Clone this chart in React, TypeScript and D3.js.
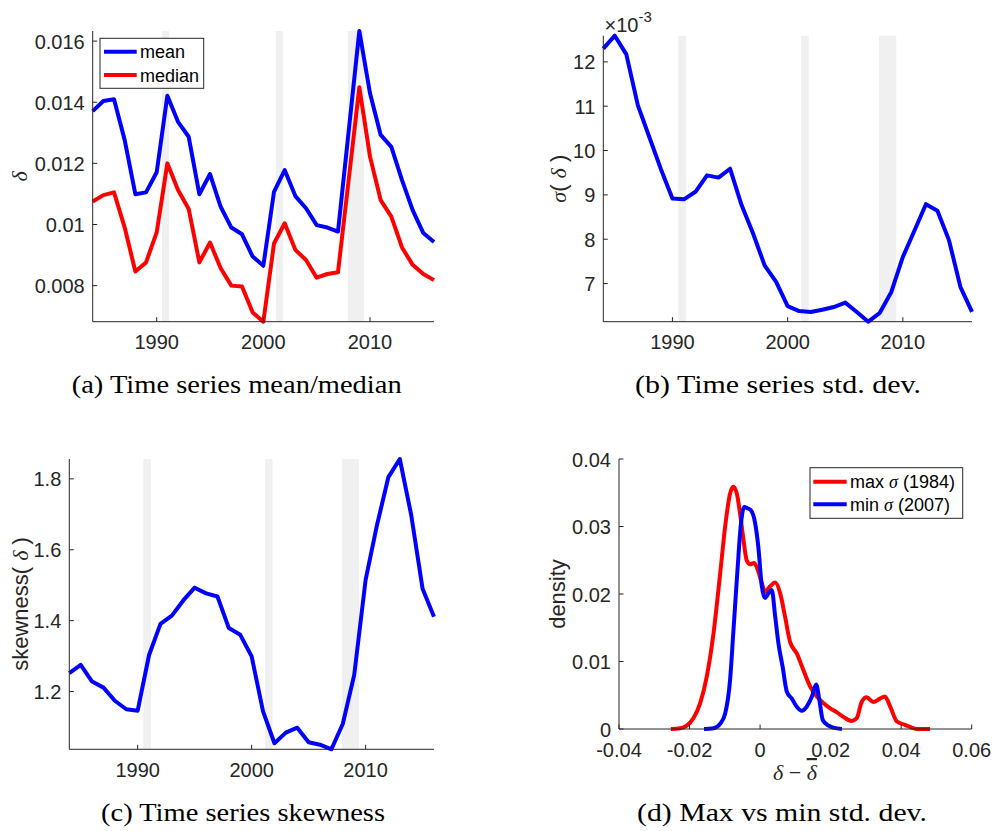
import React from "react";
import * as d3 from "d3";

// ---------- data ----------
const years = [1984, 1985, 1986, 1987, 1988, 1989, 1990, 1991, 1992, 1993, 1994, 1995, 1996, 1997, 1998, 1999, 2000, 2001, 2002, 2003, 2004, 2005, 2006, 2007, 2008, 2009, 2010, 2011, 2012, 2013, 2014, 2015, 2016];

const meanDelta = [0.01371, 0.01404, 0.0141, 0.01276, 0.01099, 0.01105, 0.01171, 0.01421, 0.01336, 0.01287, 0.01099, 0.01165, 0.01058, 0.0099, 0.00968, 0.00895, 0.00865, 0.01107, 0.01178, 0.01093, 0.01053, 0.00998, 0.0099, 0.00977, 0.01305, 0.01633, 0.01429, 0.01293, 0.01254, 0.01145, 0.01047, 0.00972, 0.00943];

const medianDelta = [0.01075, 0.01096, 0.01105, 0.0099, 0.00846, 0.00876, 0.00974, 0.012, 0.01113, 0.01051, 0.00876, 0.00941, 0.00857, 0.008, 0.00797, 0.00712, 0.00682, 0.00938, 0.01004, 0.00917, 0.00884, 0.00826, 0.00838, 0.00844, 0.01146, 0.01449, 0.01222, 0.0108, 0.01026, 0.00925, 0.00868, 0.00838, 0.00818];

const sigmaDelta = [0.0123, 0.01259, 0.01217, 0.01102, 0.0103, 0.00958, 0.00892, 0.0089, 0.00907, 0.00944, 0.00939, 0.00959, 0.00877, 0.00813, 0.00741, 0.00704, 0.00649, 0.00638, 0.00636, 0.00641, 0.00647, 0.00657, 0.00636, 0.00614, 0.00634, 0.00681, 0.0076, 0.00819, 0.00879, 0.00864, 0.00798, 0.00692, 0.00636];

const skewDelta = [1.252, 1.275, 1.228, 1.211, 1.174, 1.15, 1.146, 1.303, 1.391, 1.414, 1.457, 1.493, 1.477, 1.468, 1.379, 1.36, 1.299, 1.144, 1.054, 1.084, 1.098, 1.057, 1.05, 1.037, 1.109, 1.247, 1.515, 1.67, 1.805, 1.856, 1.698, 1.49, 1.411];

const recessionStart = [1990.5, 2001.17, 2007.92];
const recessionEnd = [1991.17, 2001.83, 2009.42];

const densMaxX = [-0.0253, -0.0227, -0.0208, -0.0189, -0.017, -0.0151, -0.0132, -0.0113, -0.0099, -0.0085, -0.0076, -0.0066, -0.0057, -0.0047, -0.0038, -0.0028, -0.0017, -0.0008, 0.0005, 0.0014, 0.0028, 0.0043, 0.0057, 0.0071, 0.0085, 0.0104, 0.0123, 0.0142, 0.0161, 0.018, 0.0198, 0.0217, 0.0236, 0.026, 0.0274, 0.0288, 0.0302, 0.0321, 0.034, 0.0354, 0.0369, 0.0388, 0.0406, 0.0425, 0.0444, 0.0482];
const densMaxY = [0, 0.0001, 0.0005, 0.0016, 0.0038, 0.0078, 0.0142, 0.0231, 0.03, 0.0349, 0.0359, 0.0349, 0.032, 0.028, 0.025, 0.0244, 0.0246, 0.0238, 0.0216, 0.0203, 0.0211, 0.0217, 0.0201, 0.0166, 0.0129, 0.0112, 0.0087, 0.0063, 0.0048, 0.0038, 0.0031, 0.0025, 0.0018, 0.0012, 0.0016, 0.004, 0.0047, 0.004, 0.0045, 0.0048, 0.0033, 0.0011, 0.0007, 0.0003, 0, 0];

const densMinX = [-0.0159, -0.0132, -0.0113, -0.0099, -0.0085, -0.0076, -0.0064, -0.0055, -0.0045, -0.0036, -0.0026, -0.0014, -0.0005, 0.0005, 0.0014, 0.0024, 0.0033, 0.0043, 0.0052, 0.0064, 0.0076, 0.009, 0.0104, 0.0118, 0.0132, 0.0147, 0.0159, 0.0168, 0.0178, 0.0194, 0.0208, 0.0232];
const densMinY = [0, 0.0001, 0.0008, 0.0023, 0.0073, 0.0142, 0.0236, 0.03, 0.0329, 0.0327, 0.0324, 0.0305, 0.027, 0.0211, 0.0194, 0.0201, 0.0206, 0.0166, 0.0127, 0.0092, 0.0055, 0.0045, 0.0033, 0.0027, 0.0033, 0.0048, 0.0066, 0.0043, 0.0013, 0.0005, 0.0002, 0];

const yearTicks = [1990, 2000, 2010];
const meanTicks = [0.008, 0.01, 0.012, 0.014, 0.016];
const sigmaTicks = [0.007, 0.008, 0.009, 0.01, 0.011, 0.012];
const skewTicks = [1.2, 1.4, 1.6, 1.8];
const densXTicks = [-0.04, -0.02, 0, 0.02, 0.04, 0.06];
const densYTicks = [0, 0.01, 0.02, 0.03, 0.04];

// ---------- style ----------
const SANS = "'Liberation Sans', Arial, Helvetica, sans-serif";
const SERIF = "'Liberation Serif', 'Times New Roman', serif";
const AX = "#262626";
const BLUE = "#0000ff";
const RED = "#ff0000";
const TICK_FS = 20;
const TICK_LEN = 4.5;
const CAP_FS = 25.5;

type Scale = d3.ScaleLinear<number, number>;

function Axes(props: {
  x: Scale;
  y: Scale;
  xTicks: number[];
  yTicks: number[];
  xFmt: (v: number) => string;
  yFmt: (v: number) => string;
}) {
  const { x, y, xTicks, yTicks, xFmt, yFmt } = props;
  const [x0, x1] = x.range();
  const [yb, yt] = y.range();
  return (
    <g>
      <line x1={x0} x2={x1} y1={yb} y2={yb} stroke={AX} strokeWidth={1} />
      <line x1={x0} x2={x0} y1={yb} y2={yt} stroke={AX} strokeWidth={1} />
      {xTicks.map((t) => (
        <g key={"x" + t}>
          <line x1={x(t)} x2={x(t)} y1={yb} y2={yb - TICK_LEN} stroke={AX} strokeWidth={1} />
          <text x={x(t)} y={yb + 27.6} textAnchor="middle" fontFamily={SANS} fontSize={TICK_FS} fill={AX}>
            {xFmt(t)}
          </text>
        </g>
      ))}
      {yTicks.map((t) => (
        <g key={"y" + t}>
          <line x1={x0} x2={x0 + TICK_LEN} y1={y(t)} y2={y(t)} stroke={AX} strokeWidth={1} />
          <text x={x0 - 8} y={y(t) + 7.5} textAnchor="end" fontFamily={SANS} fontSize={TICK_FS} fill={AX}>
            {yFmt(t)}
          </text>
        </g>
      ))}
    </g>
  );
}

function Recessions(props: { x: Scale; y: Scale }) {
  const { x, y } = props;
  const [yb, yt] = y.range();
  return (
    <g>
      {recessionStart.map((s, i) => (
        <rect key={i} x={x(s)} y={yt} width={x(recessionEnd[i]) - x(s)} height={yb - yt} fill="#f0f0f0" />
      ))}
    </g>
  );
}

function seriesPath(x: Scale, y: Scale, xs: number[], ys: number[], curve = d3.curveLinear) {
  const line = d3
    .line<number>()
    .x((_, i) => x(xs[i]))
    .y((v) => y(v))
    .curve(curve);
  return line(ys) || "";
}

const fmtPlain = (v: number) => {
  if (v === 0) return "0";
  return String(+v.toFixed(4));
};

function Caption(props: { x: number; y: number; len: number; text: string }) {
  return (
    <text
      x={props.x}
      y={props.y}
      fontFamily={SERIF}
      fontSize={CAP_FS}
      textLength={props.len}
      lengthAdjust="spacingAndGlyphs"
      fill="#000"
    >
      {props.text}
    </text>
  );
}

export default function App() {
  // panel a
  const xa = d3.scaleLinear().domain([1984, 2016]).range([92.7, 434]);
  const ya = d3
    .scaleLinear()
    .domain(d3.extent([...meanDelta, ...medianDelta]) as [number, number])
    .range([321.7, 31]);
  // panel b
  const xb = d3.scaleLinear().domain([1984, 2016]).range([603.3, 972]);
  const yb = d3
    .scaleLinear()
    .domain(d3.extent(sigmaDelta) as [number, number])
    .range([321.7, 35.7]);
  // panel c
  const xc = d3.scaleLinear().domain([1984, 2016]).range([69.3, 434]);
  const yc = d3
    .scaleLinear()
    .domain(d3.extent(skewDelta) as [number, number])
    .range([749.3, 459]);
  // panel d
  const xd = d3.scaleLinear().domain([-0.04, 0.06]).range([619, 971.7]);
  const yd = d3.scaleLinear().domain([0, 0.04]).range([729, 459]);

  const lineProps = { fill: "none", strokeWidth: 4, strokeLinejoin: "round" as const, strokeLinecap: "butt" as const };

  return (
    <svg
      width={995}
      height={831}
      viewBox="0 0 995 831"
      style={{ position: "absolute", left: 0, top: 0, background: "#fff" }}
    >
      <rect width={995} height={831} fill="#fff" />

      {/* ---------- (a) ---------- */}
      <Recessions x={xa} y={ya} />
      <path d={seriesPath(xa, ya, years, meanDelta)} stroke={BLUE} {...lineProps} />
      <path d={seriesPath(xa, ya, years, medianDelta)} stroke={RED} {...lineProps} />
      <Axes x={xa} y={ya} xTicks={yearTicks} yTicks={meanTicks} xFmt={(v) => String(v)} yFmt={fmtPlain} />
      <text
        transform="translate(27,176.4) rotate(-90)"
        textAnchor="middle"
        fontFamily={SERIF}
        fontStyle="italic"
        fontSize={22}
        fill={AX}
      >
        δ
      </text>
      <g>
        <rect x={100} y={38.3} width={103.7} height={50} fill="#fff" stroke={AX} strokeWidth={1} />
        <line x1={104} x2={136.7} y1={51.7} y2={51.7} stroke={BLUE} strokeWidth={4} />
        <line x1={104} x2={136.7} y1={75} y2={75} stroke={RED} strokeWidth={4} />
        <text x={140} y={58} fontFamily={SANS} fontSize={18} fill="#000">mean</text>
        <text x={140} y={81.5} fontFamily={SANS} fontSize={18} fill="#000">median</text>
      </g>
      <Caption x={71.7} y={393} len={330} text="(a) Time series mean/median" />

      {/* ---------- (b) ---------- */}
      <Recessions x={xb} y={yb} />
      <path d={seriesPath(xb, yb, years, sigmaDelta)} stroke={BLUE} {...lineProps} />
      <Axes x={xb} y={yb} xTicks={yearTicks} yTicks={sigmaTicks} xFmt={(v) => String(v)} yFmt={(v) => String(Math.round(v * 1000))} />
      <text x={604.5} y={31.5} fontFamily={SANS} fontSize={20} fill={AX}>
        ×10
        <tspan fontSize={15} dy={-10}>-3</tspan>
      </text>
      <text transform="translate(566,178.7) rotate(-90)" textAnchor="middle" fontSize={22} fill={AX} fontFamily={SANS}>
        <tspan fontFamily={SERIF} fontStyle="italic">σ</tspan>
        <tspan>( </tspan>
        <tspan fontFamily={SERIF} fontStyle="italic">δ</tspan>
        <tspan> )</tspan>
      </text>
      <Caption x={635} y={393} len={286} text="(b) Time series std. dev." />

      {/* ---------- (c) ---------- */}
      <Recessions x={xc} y={yc} />
      <path d={seriesPath(xc, yc, years, skewDelta)} stroke={BLUE} {...lineProps} />
      <Axes x={xc} y={yc} xTicks={yearTicks} yTicks={skewTicks} xFmt={(v) => String(v)} yFmt={(v) => v.toFixed(1)} />
      <text transform="translate(28,604) rotate(-90)" textAnchor="middle" fontSize={22} fill={AX} fontFamily={SANS}>
        <tspan>skewness( </tspan>
        <tspan fontFamily={SERIF} fontStyle="italic">δ</tspan>
        <tspan> )</tspan>
      </text>
      <Caption x={101} y={821} len={284} text="(c) Time series skewness" />

      {/* ---------- (d) ---------- */}
      <path d={seriesPath(xd, yd, densMaxX, densMaxY, d3.curveMonotoneX)} stroke={RED} {...lineProps} />
      <path d={seriesPath(xd, yd, densMinX, densMinY, d3.curveMonotoneX)} stroke={BLUE} {...lineProps} />
      <Axes x={xd} y={yd} xTicks={densXTicks} yTicks={densYTicks} xFmt={fmtPlain} yFmt={fmtPlain} />
      <text transform="translate(565,594) rotate(-90)" textAnchor="middle" fontSize={22} fill={AX} fontFamily={SANS}>
        density
      </text>
      <text x={795} y={780} textAnchor="middle" fontFamily={SERIF} fontSize={22} fill={AX}>
        <tspan fontStyle="italic">δ</tspan>
        <tspan> − </tspan>
        <tspan fontStyle="italic" textDecoration="overline" style={{ textDecoration: "overline" }}>δ</tspan>
      </text>
      <g>
        <rect x={810} y={467.7} width={152.7} height={50.6} fill="#fff" stroke={AX} strokeWidth={1} />
        <line x1={813.3} x2={846.7} y1={481.7} y2={481.7} stroke={RED} strokeWidth={4} />
        <line x1={813.3} x2={846.7} y1={504.3} y2={504.3} stroke={BLUE} strokeWidth={4} />
        <text x={850} y={488} fontFamily={SANS} fontSize={18} fill="#000">
          max <tspan fontFamily={SERIF} fontStyle="italic">σ</tspan> (1984)
        </text>
        <text x={850} y={510.6} fontFamily={SANS} fontSize={18} fill="#000">
          min <tspan fontFamily={SERIF} fontStyle="italic">σ</tspan> (2007)
        </text>
      </g>
      <Caption x={637} y={821} len={290} text="(d) Max vs min std. dev." />
    </svg>
  );
}
